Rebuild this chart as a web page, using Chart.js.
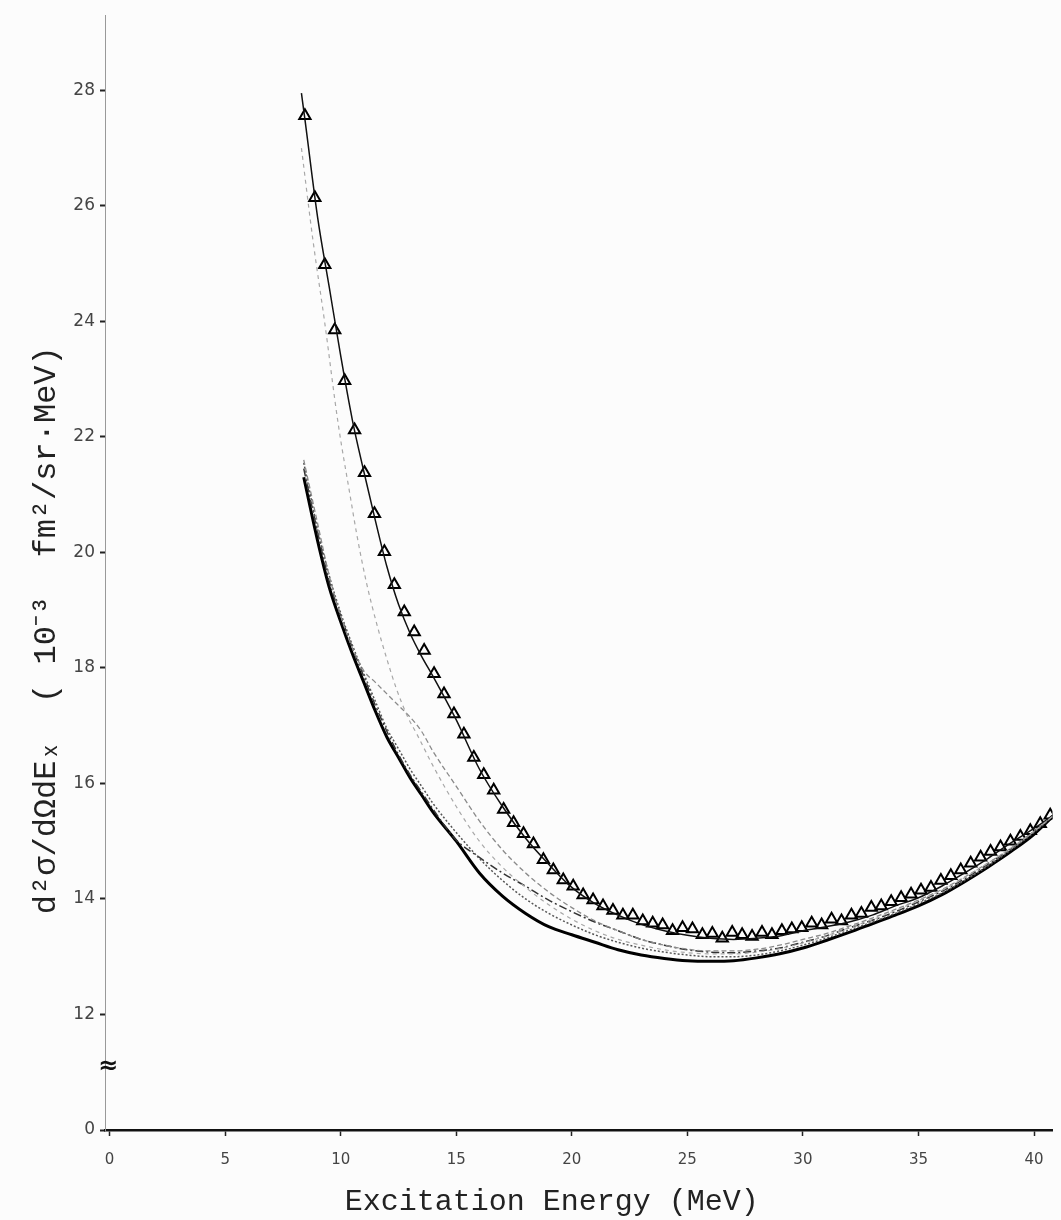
<!DOCTYPE html>
<html lang="en">

<head>
    <meta charset="UTF-8">
    <title>Excitation Energy</title>
    <script src="https://cdn.jsdelivr.net/npm/chart.js"></script>
    <style>
        body { margin: 0; background: #fcfcfc; }
        #wrap { width: 1061px; height: 1220px; }
    </style>
</head>

<body>
    <div id="wrap">
        <canvas id="chartExcitacao" width="1061" height="1220"></canvas>
    </div>

    <script>
        // tick labels
        const xTicks = [0, 5, 10, 15, 20, 25, 30, 35, 40];
        const yTicks = [10, 12, 14, 16, 18, 20, 22, 24, 26, 28];   // 10 is shown as "0" (broken axis)

        // measured points (triangles)
        const triE = [8.45, 8.88, 9.31, 9.74, 10.17, 10.6, 11.03, 11.46, 11.89, 12.32,
            12.75, 13.18, 13.61, 14.04, 14.47, 14.9, 15.33, 15.76, 16.19, 16.62,
            17.05, 17.48, 17.91, 18.34, 18.77, 19.2, 19.63, 20.06, 20.49, 20.92,
            21.35, 21.78, 22.21, 22.64, 23.07, 23.5, 23.93, 24.36, 24.79, 25.22,
            25.65, 26.08, 26.51, 26.94, 27.37, 27.8, 28.23, 28.66, 29.09, 29.52,
            29.95, 30.38, 30.81, 31.24, 31.67, 32.1, 32.53, 32.96, 33.39, 33.82,
            34.25, 34.68, 35.11, 35.54, 35.97, 36.4, 36.83, 37.26, 37.69, 38.12,
            38.55, 38.98, 39.41, 39.84, 40.27, 40.7];
        const triY = [27.56, 26.14, 24.98, 23.85, 22.97, 22.12, 21.38, 20.67, 20.01, 19.44,
            18.97, 18.62, 18.3, 17.9, 17.55, 17.2, 16.85, 16.45, 16.15, 15.88,
            15.55, 15.32, 15.13, 14.95, 14.68, 14.5, 14.33, 14.22, 14.07, 13.98,
            13.88, 13.8, 13.72, 13.72, 13.62, 13.58, 13.55, 13.45, 13.5, 13.48,
            13.38, 13.4, 13.32, 13.42, 13.38, 13.35, 13.42, 13.38, 13.45, 13.48,
            13.5, 13.58, 13.55, 13.65, 13.62, 13.72, 13.75, 13.85, 13.88, 13.95,
            14.02, 14.08, 14.15, 14.2, 14.32, 14.4, 14.5, 14.62, 14.72, 14.82,
            14.9, 15.0, 15.08, 15.18, 15.3, 15.45];

        // solid line through the triangles
        const fitE = [8.3, 8.45, 9, 9.5, 10, 10.5, 11, 11.5, 12, 12.5, 13, 13.5, 14, 15, 16, 17, 18, 19, 20,
            21, 22, 23, 24, 25, 26, 27, 28, 29, 30, 31, 32, 33, 34, 35, 36, 37, 38, 39, 40, 41];
        const fitY = [27.95, 27.5, 25.8, 24.6, 23.4, 22.3, 21.4, 20.55, 19.75, 19.1, 18.6, 18.2, 17.85, 17.1,
            16.25, 15.6, 15.05, 14.6, 14.2, 13.92, 13.72, 13.56, 13.45, 13.37, 13.32, 13.3, 13.32, 13.36,
            13.45, 13.52, 13.6, 13.72, 13.88, 14.02, 14.22, 14.45, 14.7, 14.97, 15.22, 15.5];

        // faint dashed curve starting at 27
        const tracoE = [8.3, 8.8, 9.3, 9.9, 10.4, 10.7, 11.1, 11.6, 12, 12.4, 12.9, 13.3, 14, 15, 16, 17, 18,
            19, 20, 21, 22, 23, 24, 25, 26, 27, 28, 29, 30, 31, 32, 33, 34, 35, 36, 37, 38, 39, 40, 41];
        const tracoY = [27.0, 25.4, 24.0, 22.2, 21.0, 20.3, 19.5, 18.7, 18.15, 17.65, 17.15, 16.85, 16.3, 15.6,
            15.0, 14.55, 14.2, 13.9, 13.65, 13.45, 13.3, 13.2, 13.12, 13.07, 13.05, 13.05, 13.08, 13.14,
            13.24, 13.36, 13.5, 13.64, 13.8, 13.97, 14.15, 14.37, 14.62, 14.88, 15.17, 15.5];

        // lower bundle of curves, common energy grid
        const gradeE = [8.4, 9, 9.5, 10, 10.5, 11, 11.5, 12, 12.5, 13, 13.5, 14, 15, 16, 17, 18, 19, 20,
            21, 22, 23, 24, 25, 26, 27, 28, 29, 30, 31, 32, 33, 34, 35, 36, 37, 38, 39, 40, 41];
        const ombroY = [21.6, 20.5, 19.6, 18.9, 18.35, 17.95, 17.75, 17.55, 17.35, 17.15, 16.9, 16.55, 15.95,
            15.35, 14.85, 14.45, 14.12, 13.85, 13.62, 13.45, 13.3, 13.2, 13.13, 13.1, 13.1, 13.13, 13.2,
            13.3, 13.4, 13.53, 13.67, 13.82, 13.98, 14.16, 14.38, 14.62, 14.88, 15.17, 15.5];
        const solidoY = [21.3, 20.2, 19.4, 18.8, 18.25, 17.75, 17.25, 16.8, 16.45, 16.1, 15.8, 15.5, 15.0,
            14.45, 14.05, 13.75, 13.52, 13.38, 13.25, 13.12, 13.03, 12.97, 12.93, 12.92, 12.93, 12.98,
            13.05, 13.15, 13.28, 13.42, 13.57, 13.72, 13.88, 14.07, 14.3, 14.55, 14.82, 15.12, 15.5];
        const pontoTracoY = [21.45, 20.35, 19.5, 18.9, 18.35, 17.85, 17.35, 16.9, 16.5, 16.15, 15.85, 15.55,
            15.02, 14.72, 14.45, 14.22, 13.98, 13.78, 13.6, 13.45, 13.3, 13.2, 13.12, 13.08, 13.07, 13.1,
            13.15, 13.25, 13.36, 13.5, 13.63, 13.78, 13.95, 14.13, 14.35, 14.6, 14.87, 15.17, 15.5];
        const pontilhadoY = [21.55, 20.4, 19.6, 18.95, 18.4, 17.9, 17.42, 16.95, 16.6, 16.25, 15.95, 15.65,
            15.15, 14.7, 14.32, 14.0, 13.75, 13.55, 13.38, 13.25, 13.15, 13.08, 13.03, 13.0, 13.0, 13.03,
            13.1, 13.2, 13.32, 13.46, 13.6, 13.75, 13.92, 14.1, 14.32, 14.57, 14.85, 15.15, 15.5];

        function pares(xs, ys) {
            return xs.map((x, i) => ({ x: x, y: ys[i] }));
        }

        function curva(xs, ys, cor, largura, tracejado) {
            return {
                data: pares(xs, ys),
                showLine: true,
                borderColor: cor,
                borderWidth: largura,
                borderDash: tracejado,
                pointRadius: 0,
                cubicInterpolationMode: 'monotone',
                fill: false
            };
        }

        // little "≈" mark where the y axis is broken
        const quebraEixo = {
            id: 'quebraEixo',
            afterDraw(chart) {
                const ctx = chart.ctx;
                const ys = chart.scales.y;
                ctx.save();
                ctx.fillStyle = '#111';
                ctx.font = 'bold 24px "DejaVu Sans"';
                ctx.textAlign = 'center';
                ctx.textBaseline = 'middle';
                ctx.fillText('≈', ys.right + 3, ys.getPixelForValue(11.1));
                ctx.restore();
            }
        };

        const ctx = document.getElementById('chartExcitacao').getContext('2d');
        new Chart(ctx, {
            type: 'scatter',
            data: {
                datasets: [
                    curva(tracoE, tracoY, '#a8a8a8', 1.2, [4, 4]),
                    curva(gradeE, ombroY, '#8a8a8a', 1.3, [5, 3]),
                    curva(gradeE, pontilhadoY, '#555', 1.5, [2, 2]),
                    curva(gradeE, pontoTracoY, '#333', 1.5, [8, 3, 2, 3]),
                    curva(gradeE, solidoY, '#000', 3, []),
                    curva(fitE, fitY, '#111', 1.5, []),
                    {
                        data: pares(triE, triY),
                        showLine: false,
                        pointStyle: 'triangle',
                        pointRadius: 6.5,
                        borderWidth: 2,
                        borderColor: '#000',
                        backgroundColor: 'rgba(0,0,0,0)'
                    }
                ]
            },
            options: {
                responsive: false,
                animation: false,
                layout: { padding: { top: 12, left: 0, right: 0, bottom: 0 } },
                plugins: {
                    legend: { display: false },
                    tooltip: { enabled: false }
                },
                scales: {
                    x: {
                        type: 'linear',
                        min: -0.2,
                        max: 40.8,
                        afterBuildTicks: a => { a.ticks = xTicks.map(v => ({ value: v })); },
                        afterFit: a => { a.height = 90; },
                        ticks: {
                            color: '#444',
                            padding: 15,
                            font: { family: 'DejaVu Sans', size: 15 }
                        },
                        grid: { drawOnChartArea: false, tickLength: 6, tickColor: '#222', tickWidth: 1.5 },
                        border: { color: '#111', width: 2.5 },
                        title: {
                            display: true,
                            text: 'Excitation Energy (MeV)\u00a0\u00a0\u00a0',
                            color: '#222',
                            padding: 0,
                            font: { family: 'Liberation Mono', size: 30 }
                        }
                    },
                    y: {
                        min: 10,
                        max: 29.3,
                        afterBuildTicks: a => { a.ticks = yTicks.map(v => ({ value: v })); },
                        afterFit: a => { a.width = 105; },
                        ticks: {
                            color: '#444',
                            padding: 5,
                            font: { family: 'DejaVu Sans', size: 17 },
                            callback: v => (v === 10 ? '0' : v)
                        },
                        grid: { drawOnChartArea: false, tickLength: 5, tickColor: '#222', tickWidth: 2 },
                        border: { color: '#999', width: 1, dash: [3, 3] },
                        title: {
                            display: true,
                            text: 'd²σ/dΩdEₓ  ( 10⁻³  fm²/sr·MeV)\u00a0\u00a0\u00a0\u00a0\u00a0\u00a0',
                            color: '#222',
                            padding: { top: 27, bottom: 0 },
                            font: { family: 'Liberation Mono', size: 32 }
                        }
                    }
                }
            },
            plugins: [quebraEixo]
        });
    </script>

</body>

</html>
